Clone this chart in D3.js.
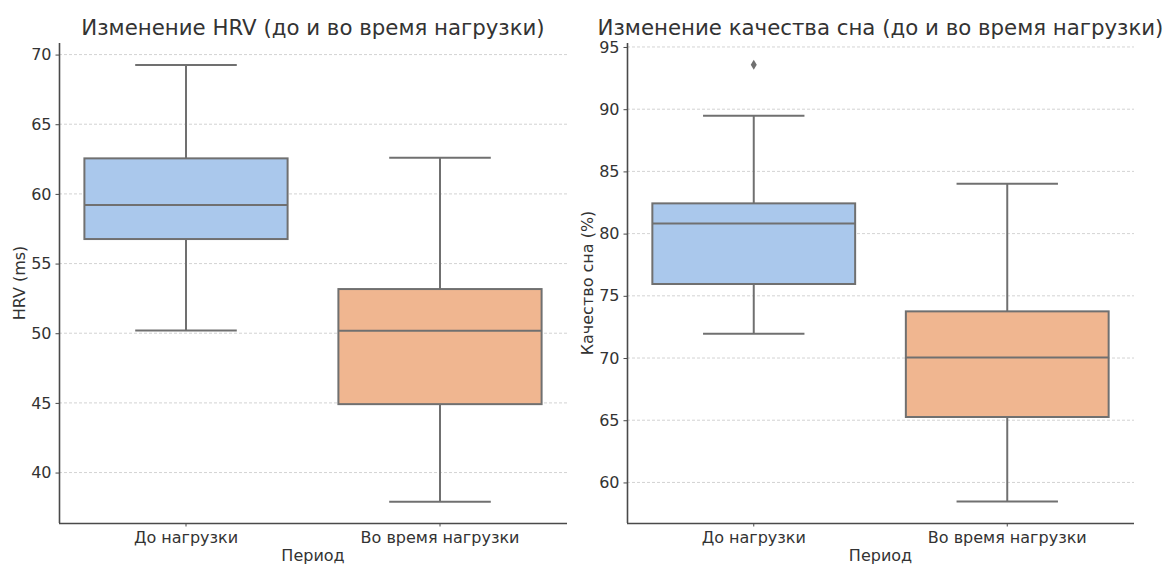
<!DOCTYPE html>
<html>
<head>
<meta charset="utf-8">
<script src="https://cdn.jsdelivr.net/npm/d3@7"></script>
<style>
  html, body { margin: 0; padding: 0; background: #fff; }
  svg { display: block; font-family: "DejaVu Sans", sans-serif; }
</style>
</head>
<body>
<svg id="chart" width="1165" height="564"></svg>
<script>
// Periods on the x axis
const periods = ["До нагрузки", "Во время нагрузки"];

// HRV (ms): five-number summaries per period
const hrvLowWhisker = [50.2, 37.9];
const hrvQ1 = [56.76, 44.91];
const hrvMedian = [59.2, 50.17];
const hrvQ3 = [62.55, 53.17];
const hrvHighWhisker = [69.25, 62.6];
const hrvOutliers = [[], []];
const hrvTicks = [40, 45, 50, 55, 60, 65, 70];

// Sleep quality (%): five-number summaries per period
const sleepLowWhisker = [71.95, 58.47];
const sleepQ1 = [75.95, 65.26];
const sleepMedian = [80.82, 70.05];
const sleepQ3 = [82.43, 73.75];
const sleepHighWhisker = [89.48, 84.01];
const sleepOutliers = [[93.58], []];
const sleepTicks = [60, 65, 70, 75, 80, 85, 90, 95];

const fills = ["#aac8ec", "#f0b690"];
const lineColor = "#707070";
const axisColor = "#4a4a4a";
const textColor = "#333333";
const FONT = "DejaVu Sans, sans-serif";

const svg = d3.select("#chart");

function panel(opt) {
  const g = svg.append("g");
  const x = d3.scaleBand().domain(periods).range([opt.left, opt.right]).paddingInner(0).paddingOuter(0);
  const y = d3.scaleLinear().domain(opt.yDomain).range([opt.bottom, opt.top]);

  // horizontal dashed grid
  g.append("g").selectAll("line").data(opt.ticks).join("line")
    .attr("x1", opt.left).attr("x2", opt.right)
    .attr("y1", d => y(d)).attr("y2", d => y(d))
    .attr("stroke", "#c8c8c8").attr("stroke-width", 0.8)
    .attr("stroke-dasharray", "3,2");

  const bw = x.bandwidth() * 0.8;
  const capW = bw / 2;
  const rows = periods.map((p, i) => ({
    p, i, lo: opt.lo[i], q1: opt.q1[i], med: opt.med[i], q3: opt.q3[i], hi: opt.hi[i], out: opt.out[i]
  }));
  const cx = d => x(d.p) + x.bandwidth() / 2;

  const box = g.append("g").selectAll("g").data(rows).join("g");
  // whiskers
  box.append("line").attr("x1", cx).attr("x2", cx)
    .attr("y1", d => y(d.q3)).attr("y2", d => y(d.hi))
    .attr("stroke", lineColor).attr("stroke-width", 2);
  box.append("line").attr("x1", cx).attr("x2", cx)
    .attr("y1", d => y(d.q1)).attr("y2", d => y(d.lo))
    .attr("stroke", lineColor).attr("stroke-width", 2);
  // caps
  box.append("line").attr("x1", d => cx(d) - capW / 2).attr("x2", d => cx(d) + capW / 2)
    .attr("y1", d => y(d.hi)).attr("y2", d => y(d.hi))
    .attr("stroke", lineColor).attr("stroke-width", 2);
  box.append("line").attr("x1", d => cx(d) - capW / 2).attr("x2", d => cx(d) + capW / 2)
    .attr("y1", d => y(d.lo)).attr("y2", d => y(d.lo))
    .attr("stroke", lineColor).attr("stroke-width", 2);
  // boxes
  box.append("rect")
    .attr("x", d => cx(d) - bw / 2).attr("width", bw)
    .attr("y", d => y(d.q3)).attr("height", d => y(d.q1) - y(d.q3))
    .attr("fill", d => fills[d.i]).attr("stroke", lineColor).attr("stroke-width", 2);
  // medians
  box.append("line").attr("x1", d => cx(d) - bw / 2).attr("x2", d => cx(d) + bw / 2)
    .attr("y1", d => y(d.med)).attr("y2", d => y(d.med))
    .attr("stroke", lineColor).attr("stroke-width", 2);
  // outliers (diamonds)
  box.each(function (d) {
    d3.select(this).selectAll("path.out").data(d.out).join("path")
      .attr("class", "out")
      .attr("transform", v => `translate(${cx(d)},${y(v)})`)
      .attr("d", "M0,-5L3,0L0,5L-3,0Z")
      .attr("fill", lineColor);
  });

  // axes
  const yAxis = d3.axisLeft(y).tickValues(opt.ticks).tickSize(3.5).tickPadding(4);
  const ya = g.append("g").attr("transform", `translate(${opt.left},0)`).call(yAxis);
  const xAxis = d3.axisBottom(x).tickSize(3.5).tickPadding(5);
  const xa = g.append("g").attr("transform", `translate(0,${opt.bottom})`).call(xAxis);
  [ya, xa].forEach(a => {
    a.attr("font-family", FONT).attr("font-size", 16);
    a.select(".domain").attr("stroke", axisColor).attr("stroke-width", 1.6);
    a.selectAll(".tick line").attr("stroke", axisColor).attr("stroke-width", 1);
    a.selectAll(".tick text").attr("fill", textColor);
  });
  ya.select(".domain").attr("d", `M0.5,${opt.top}V${opt.bottom}`);
  xa.select(".domain").attr("d", `M${opt.left},0.5H${opt.right}`);

  // titles
  g.append("text").attr("x", (opt.left + opt.right) / 2).attr("y", 35)
    .attr("text-anchor", "middle").attr("fill", textColor).style("font-size", "21.3px")
    .text(opt.title);
  g.append("text").attr("x", (opt.left + opt.right) / 2).attr("y", 561)
    .attr("text-anchor", "middle").attr("fill", textColor).style("font-size", "16px")
    .text("Период");
  g.append("text").attr("transform", `translate(${opt.ylabelX},${(opt.top + opt.bottom) / 2}) rotate(-90)`)
    .attr("text-anchor", "middle").attr("fill", textColor).style("font-size", "16px")
    .text(opt.ylabel);
}

panel({
  left: 59, right: 567, top: 43, bottom: 523,
  yDomain: [36.38, 70.83], ticks: hrvTicks,
  lo: hrvLowWhisker, q1: hrvQ1, med: hrvMedian, q3: hrvQ3, hi: hrvHighWhisker, out: hrvOutliers,
  title: "Изменение HRV (до и во время нагрузки)", ylabel: "HRV (ms)", ylabelX: 25
});

panel({
  left: 627, right: 1134, top: 43, bottom: 523,
  yDomain: [56.74, 95.32], ticks: sleepTicks,
  lo: sleepLowWhisker, q1: sleepQ1, med: sleepMedian, q3: sleepQ3, hi: sleepHighWhisker, out: sleepOutliers,
  title: "Изменение качества сна (до и во время нагрузки)", ylabel: "Качество сна (%)", ylabelX: 593
});
</script>
</body>
</html>
